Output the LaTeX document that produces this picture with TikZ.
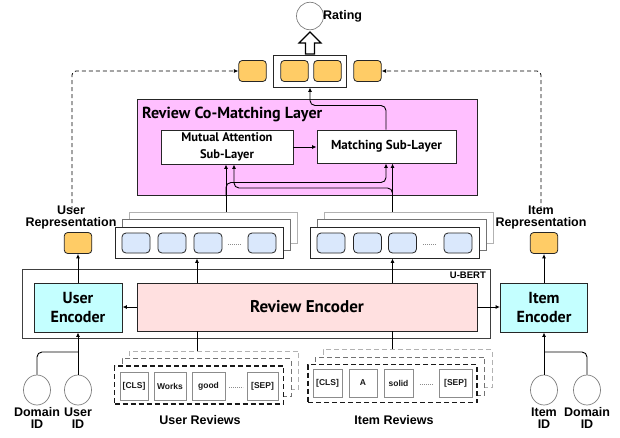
\documentclass[tikz,border=0pt]{standalone}
\usepackage{fontspec}
\setmainfont{Liberation Sans}
\newfontfamily\bio{PT Sans}
\usetikzlibrary{arrows.meta,shapes.geometric}
\definecolor{pinkbg}{HTML}{FFBFFF}
\definecolor{revenc}{HTML}{FFE0E0}
\definecolor{cyanenc}{HTML}{C4FFFF}
\definecolor{orangeb}{HTML}{FFCC66}
\definecolor{blueb}{HTML}{DAE8FC}
\begin{document}
\begin{tikzpicture}[x=1pt,y=-1pt,
  arr/.style={-{Latex[length=4.5pt,width=4pt]}, line width=0.9pt},
  dasharr/.style={-{Latex[length=4.5pt,width=4pt]}, line width=0.8pt, dash pattern=on 4pt off 3pt, rounded corners=4pt},
  lbl/.style={font=\fontsize{12.5}{12.5}\selectfont\bfseries, align=center, inner sep=0pt},
  biotxt/.style={font=\bio\bfseries, align=center, inner sep=0pt},
  orangebox/.style={draw=black!85, fill=orangeb, rounded corners=3.5pt, minimum width=27.5pt, minimum height=21pt, line width=0.8pt, inner sep=0pt},
  bluebox/.style={draw=black!85, fill=blueb, rounded corners=4pt, minimum width=28pt, minimum height=20pt, line width=0.8pt, inner sep=0pt},
  tokbox/.style={draw=black!45, fill=white, minimum height=28pt, line width=0.8pt, inner sep=0pt, text=black!90, font=\fontsize{8.5}{9}\selectfont\bfseries},
  idcirc/.style={draw=black!50, ellipse, fill=white, minimum width=27pt, minimum height=30pt, inner sep=0pt, line width=0.7pt},
  stackbox/.style={draw, fill=white, minimum width=168pt, minimum height=31pt, inner sep=0pt, line width=0.8pt},
  revbox/.style={fill=white, minimum width=169pt, minimum height=38pt, inner sep=0pt, dash pattern=on 5pt off 3pt},
  dots/.style={draw=black!45, line width=0.6pt, dash pattern=on 0.8pt off 1.2pt}
]
\useasboundingbox (0,0) rectangle (620,437);

% ---------------- top: rating ----------------
\node[draw=black!50, ellipse, minimum width=27pt, minimum height=27.5pt, line width=0.7pt] (rating) at (310,16) {};
\node[lbl, anchor=west] (ratinglbl) at (323,16.5) {Rating};
\draw[line width=1.2pt, fill=white] (305.5,54) -- (305.5,43) -- (299,43) -- (310,32) -- (321,43) -- (314.5,43) -- (314.5,54) -- cycle;

\node[draw=black!85, line width=0.9pt, minimum width=73pt, minimum height=32pt, inner sep=0pt] (concat) at (309.5,71) {};
\node[orangebox] (oc1) at (294.5,71) {};
\node[orangebox] (oc2) at (327.5,71) {};
\node[orangebox] (orL) at (252.5,71) {};
\node[orangebox] (orR) at (367.5,71) {};

% ---------------- co-matching layer ----------------
\node[draw=black!85, fill=pinkbg, line width=1pt, minimum width=340pt, minimum height=96pt, inner sep=0pt] (coml) at (307,147) {};
\node[biotxt, anchor=west, font=\fontsize{16}{16}\selectfont\bio\bfseries] (comltitle) at (142,114.5) {Review Co-Matching Layer};
\node[draw=black!85, fill=white, line width=0.9pt, minimum width=132pt, minimum height=34pt, inner sep=0pt, biotxt, font=\fontsize{12.5}{16.5}\selectfont\bio\bfseries] (mutual) at (227,147) {Mutual Attention\\Sub-Layer};
\node[draw=black!85, fill=white, line width=0.9pt, minimum width=139pt, minimum height=33pt, inner sep=0pt, biotxt, font=\fontsize{13}{14}\selectfont\bio\bfseries] (matching) at (386.5,146.5) {Matching Sub-Layer};
\draw[arr] (mutual.east) -- (mutual.east -| matching.west);

\coordinate (ux) at (226,0);
\coordinate (ux2) at (234,0);
\coordinate (ix) at (392.5,0);
\coordinate (ix2) at (386,0);
\coordinate (topx) at (310,0);

% ---------------- stacks ----------------
\node[stackbox, draw=black!30] (us3) at (213,227.5) {};
\node[stackbox, draw=black!55] (us2) at (206,235) {};
\node[stackbox, draw=black!85] (us1) at (199,242.5) {};
\node[bluebox] (ub1) at (136,243) {};
\node[bluebox] (ub2) at (172,243) {};
\node[bluebox] (ub3) at (208,243) {};
\node[bluebox] (ub4) at (262,243) {};
\draw[dots] (ub3.east) ++(6,1) -- ++(13,0);

\node[stackbox, draw=black!30, minimum width=169pt] (is3) at (408.5,227.5) {};
\node[stackbox, draw=black!55, minimum width=169pt] (is2) at (401.5,235) {};
\node[stackbox, draw=black!85, minimum width=169pt] (is1) at (394.5,242.5) {};
\node[bluebox] (ib1) at (331,243) {};
\node[bluebox] (ib2) at (367.5,243) {};
\node[bluebox] (ib3) at (402.5,243) {};
\node[bluebox] (ib4) at (458,243) {};
\draw[dots] (ib3.east) ++(6.5,1) -- ++(13,0);

% stacks -> co-matching
\draw[arr] (us3.north -| ux) -- (mutual.south -| ux);
\draw[arr] (is3.north -| ix) -- (matching.south -| ix);
\draw[arr, rounded corners=5pt] (226,196) |- (ix2 |- 0,182.5) -- (matching.south -| ix2);
\draw[arr, rounded corners=5pt] (392.5,196) |- (ux2 |- 0,188) -- (mutual.south -| ux2);
\draw[arr, rounded corners=5pt] (matching.north -| ix2) |- (topx |- 0,105.5) -- (concat.south -| topx);

% ---------------- representations ----------------
\node[lbl] (urlbl) at (71,217.5) {User\\Representation};
\node[lbl] (irlbl) at (541,217.5) {Item\\Representation};
\node[orangebox] (userrep) at (78,243) {};
\node[orangebox] (itemrep) at (544,243) {};
\coordinate (ldash) at (72,210);
\coordinate (rdash) at (541,210);
\draw[dasharr] (ldash) |- (orL.west);
\draw[dasharr] (rdash) |- (orR.east);

% ---------------- U-BERT ----------------
\node[draw=black!75, line width=1pt, minimum width=468pt, minimum height=69pt, inner sep=0pt] (ubert) at (256,303.5) {};
\node[anchor=east, inner sep=0pt, font=\fontsize{9.5}{10}\selectfont\bfseries] (ubertlbl) at (486,275.5) {U-BERT};
\node[draw=black!85, fill=cyanenc, line width=0.9pt, minimum width=88pt, minimum height=49pt, inner sep=0pt, biotxt, font=\fontsize{16}{19}\selectfont\bio\bfseries] (userenc) at (78,307.5) {User\\Encoder};
\node[draw=black!85, fill=revenc, line width=0.9pt, minimum width=340pt, minimum height=48pt, inner sep=0pt, biotxt, font=\fontsize{17}{19}\selectfont\bio\bfseries] (revenc) at (307,307) {Review Encoder};
\node[draw=black!85, fill=cyanenc, line width=0.9pt, minimum width=87pt, minimum height=49pt, inner sep=0pt, biotxt, font=\fontsize{16}{19}\selectfont\bio\bfseries] (itemenc) at (544,307.5) {Item\\Encoder};

\draw[arr] (revenc.west) -- (revenc.west -| userenc.east);
\draw[arr] (revenc.east) -- (revenc.east -| itemenc.west);
\draw[arr] (userenc.north) -- (userrep.south);
\draw[arr] (itemenc.north) -- (itemrep.south);
\coordinate (rx1) at (197,0);
\draw[arr] (revenc.north -| rx1) -- (us1.south -| rx1);
\draw[arr] (revenc.north -| ix) -- (is1.south -| ix);

% ---------------- reviews ----------------
\node[revbox, draw=black!30, line width=1pt] (ur3) at (214,370) {};
\node[revbox, draw=black!55, line width=1pt] (ur2) at (206.5,377.5) {};
\node[revbox, draw=black!90, line width=1.4pt] (ur1) at (199,385) {};
\node[tokbox, minimum width=28pt] (ut1) at (134,386) {[CLS]};
\node[tokbox, minimum width=32pt] (ut2) at (170,386) {Works};
\node[tokbox, minimum width=33pt] (ut3) at (208.5,386) {good};
\node[tokbox, minimum width=31pt] (ut4) at (262.5,386) {[SEP]};
\draw[dots] (ut3.east) ++(4,1) -- ++(14,0);
\node[lbl] (urevlbl) at (200,420) {User Reviews};

\node[revbox, draw=black!30, line width=1pt] (ir3) at (407.5,368.5) {};
\node[revbox, draw=black!55, line width=1pt] (ir2) at (400,376) {};
\node[revbox, draw=black!90, line width=1.4pt] (ir1) at (392.5,383.5) {};
\node[tokbox, minimum width=29pt] (it1) at (327.5,383) {[CLS]};
\node[tokbox, minimum width=28pt] (it2) at (363,383) {A};
\node[tokbox, minimum width=29pt] (it3) at (398.5,383) {solid};
\node[tokbox, minimum width=33pt] (it4) at (455.5,383) {[SEP]};
\draw[dots] (it3.east) ++(6.5,1) -- ++(13,0);
\node[lbl] (irevlbl) at (394,420) {Item Reviews};

\draw[line width=0.9pt] (ur3.north -| rx1) -- (revenc.south -| rx1);
\draw[line width=0.9pt] (ir3.north -| ix) -- (revenc.south -| ix);

% ---------------- IDs ----------------
\node[idcirc] (udom) at (37,390) {};
\node[idcirc] (uid) at (78,390) {};
\node[idcirc] (iid) at (544,390) {};
\node[idcirc] (idom) at (587,390) {};
\node[lbl] (udomlbl) at (37,418) {Domain\\ID};
\node[lbl] (uidlbl) at (78,418) {User\\ID};
\node[lbl] (iidlbl) at (544,418) {Item\\ID};
\node[lbl] (idomlbl) at (587,418) {Domain\\ID};
\coordinate (ujoin) at (78,352);
\coordinate (ijoin) at (544,352);
\draw[arr] (uid.north) -- (userenc.south);
\draw[line width=0.9pt, rounded corners=5pt] (udom.north) |- (ujoin);
\draw[arr] (iid.north) -- (itemenc.south);
\draw[line width=0.9pt, rounded corners=5pt] (idom.north) |- (ijoin);
\end{tikzpicture}
\end{document}
